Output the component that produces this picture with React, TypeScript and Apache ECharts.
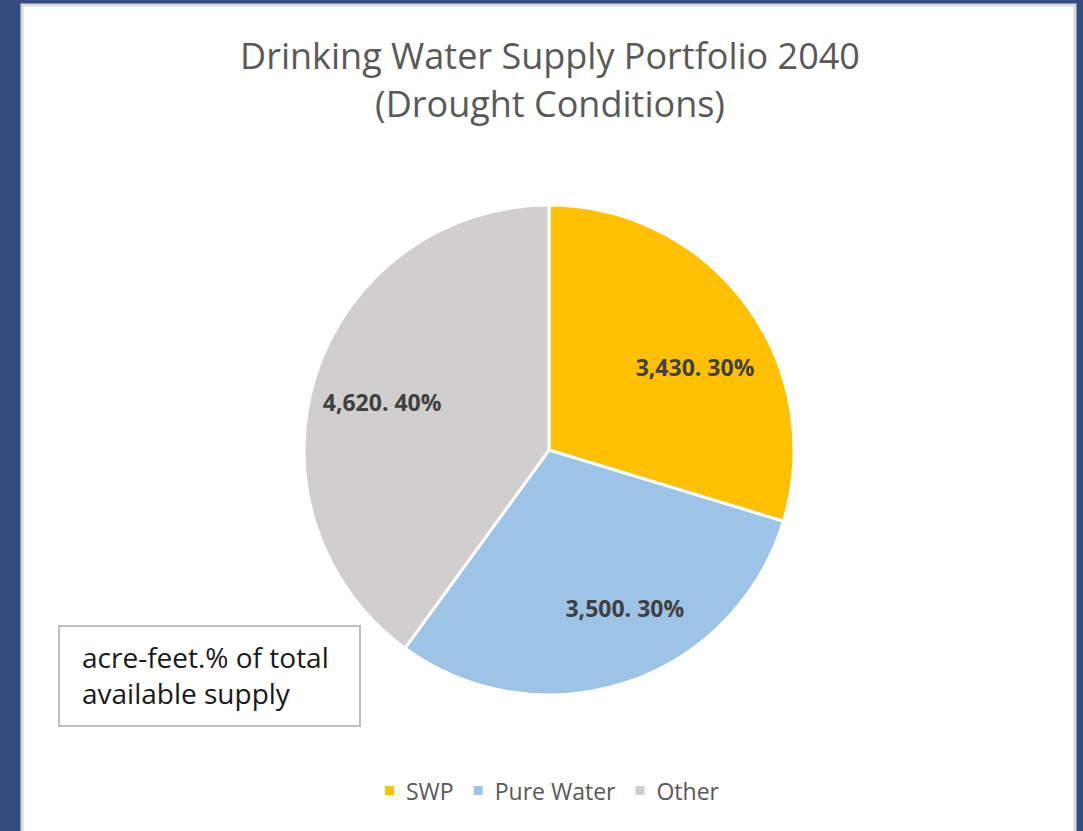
import React, { useEffect, useRef } from "react";
import * as echarts from "echarts";

const categories = ["SWP", "Pure Water", "Other"];
const values = [3430, 3500, 4620];
const colors = ["#FFC000", "#9DC3E6", "#D0CECE"];
const titleLines = ["Drinking Water Supply Portfolio 2040", "(Drought Conditions)"];
const noteLines = ["acre-feet.% of total", "available supply"];

const FONT = "'Open Sans', 'Noto Sans', sans-serif";
// small nudges mimicking Excel's best-fit label placement
const labelNudges = [
  [5, 22],
  [20, -8],
  [0, 6],
];

export default function App() {
  const ref = useRef<HTMLDivElement>(null);
  useEffect(() => {
    document.body.style.margin = "0";
    const chart = echarts.init(ref.current!, undefined, { renderer: "svg" });
    const total = values.reduce((a, b) => a + b, 0);
    const data = categories.map((name, i) => ({
      name,
      value: values[i],
      itemStyle: { color: colors[i] },
    }));
    const fmt = (p: any) =>
      `${Number(p.value).toLocaleString("en-US")}. ${Math.round((p.value / total) * 100)}%`;
    chart.setOption({
      animation: false,
      backgroundColor: "#354C80",
      title: {
        text: titleLines.join("\n"),
        left: 545,
        textAlign: "center",
        top: 26,
        textStyle: {
          fontFamily: FONT,
          fontSize: 36,
          fontWeight: "normal",
          color: "#595959",
          lineHeight: 48,
        },
      },
      legend: {
        data: categories,
        bottom: 24,
        left: 378,
        icon: "rect",
        itemWidth: 11,
        itemHeight: 11,
        itemGap: 18,
        textStyle: {
          fontFamily: FONT,
          fontSize: 23,
          color: "#595959",
          padding: [0, 0, 0, 6],
        },
      },
      graphic: [
        {
          type: "rect",
          z: -10,
          shape: { x: 22, y: 5, width: 1053, height: 840 },
          style: { fill: "#FFFFFF", stroke: "#D9D9D9", lineWidth: 3 },
        },
        {
          type: "group",
          z: 100,
          children: [
            {
              type: "rect",
              shape: { x: 59, y: 626, width: 301, height: 100 },
              style: { fill: "#FFFFFF", stroke: "#BFBFBF", lineWidth: 2 },
            },
            {
              type: "text",
              x: 82,
              y: 639,
              style: {
                text: noteLines.join("\n"),
                fontFamily: FONT,
                fontSize: 28,
                lineHeight: 36,
                fill: "#1a1a1a",
              },
            },
          ],
        },
      ],
      series: [
        {
          type: "pie",
          center: [549, 450],
          radius: [0, 245],
          startAngle: 90,
          clockwise: true,
          data,
          label: { show: false },
          labelLine: { show: false },
          itemStyle: { borderColor: "#FFFFFF", borderWidth: 3 },
          emphasis: { disabled: true },
          silent: true,
        },
        {
          type: "pie",
          center: [549, 450],
          radius: [0, 345],
          startAngle: 90,
          clockwise: true,
          data: categories.map((name, i) => ({ name, value: values[i] })),
          itemStyle: { color: "rgba(0,0,0,0)" },
          label: {
            show: true,
            position: "inside",
            formatter: fmt,
            fontFamily: FONT,
            fontSize: 23,
            fontWeight: "bold",
            color: "#404040",
          },
          labelLayout: (p: any) => ({
            dx: labelNudges[p.dataIndex][0],
            dy: labelNudges[p.dataIndex][1],
          }),
          labelLine: { show: false },
          emphasis: { disabled: true },
          silent: true,
          legendHoverLink: false,
        },
      ],
    });
    return () => chart.dispose();
  }, []);
  return <div ref={ref} style={{ width: 1083, height: 831 }} />;
}
